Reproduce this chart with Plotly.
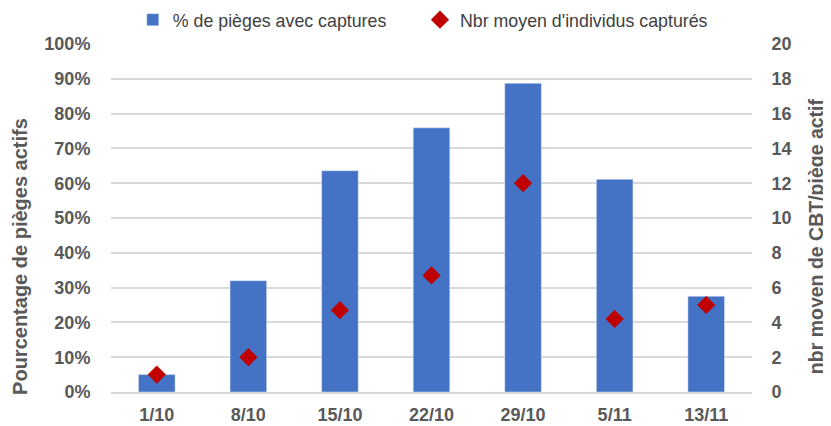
import plotly.graph_objects as go

categories = ["1/10", "8/10", "15/10", "22/10", "29/10", "5/11", "13/11"]
pct_traps = [5.0, 32.0, 63.6, 75.9, 88.7, 61.1, 27.5]
mean_caught = [1.0, 2.0, 4.7, 6.7, 12.0, 4.2, 5.0]
left_ticks = [0, 10, 20, 30, 40, 50, 60, 70, 80, 90, 100]
right_ticks = [0, 2, 4, 6, 8, 10, 12, 14, 16, 18, 20]

FONT = "Liberation Sans"
GRAY = "#595959"
GRID = "#d9d9d9"

fig = go.Figure()
fig.add_trace(go.Bar(
    x=categories, y=pct_traps, name="% de pièges avec captures",
    marker=dict(color="#4472C4"), yaxis="y", legend="legend",
))
fig.add_trace(go.Scatter(
    x=categories, y=mean_caught, name="Nbr moyen d'individus capturés",
    mode="markers", marker=dict(symbol="diamond", size=14, color="#C00000"),
    yaxis="y2", legend="legend2",
))

legend_common = dict(orientation="h", xanchor="left",
                     yref="container", y=0.971, yanchor="middle",
                     font=dict(family=FONT, size=17.8, color="#404040"),
                     itemwidth=30, bgcolor="rgba(0,0,0,0)")

# page body adds an 8px offset, so the figure is 8px smaller than the window
fig.update_layout(
    width=823, height=418,
    margin=dict(l=103, r=79, t=36, b=34, autoexpand=False),
    paper_bgcolor="white", plot_bgcolor="white",
    bargap=0.6,
    font=dict(family=FONT, color=GRAY),
    showlegend=True,
    legend=dict(x=0.034, **legend_common),
    legend2=dict(x=0.482, **legend_common),
    xaxis=dict(
        automargin=False,
        showgrid=False, showline=True, linecolor=GRID, linewidth=1.5,
        ticks="outside", ticklen=6, tickcolor="rgba(0,0,0,0)",
        tickfont=dict(family=FONT, size=18, color=GRAY, weight="bold"),
    ),
    yaxis=dict(
        automargin=False,
        range=[0, 100], tickvals=left_ticks,
        ticktext=[f"{v}%" for v in left_ticks],
        showgrid=True, gridcolor=GRID, gridwidth=1.5, zeroline=False,
        ticks="outside", ticklen=16, tickcolor="rgba(0,0,0,0)",
        tickfont=dict(family=FONT, size=18, color=GRAY, weight="bold"),
    ),
    yaxis2=dict(
        automargin=False,
        range=[0, 20], tickvals=right_ticks, overlaying="y", side="right",
        showgrid=False, zeroline=False,
        ticks="outside", ticklen=15, tickcolor="rgba(0,0,0,0)",
        tickfont=dict(family=FONT, size=18, color=GRAY, weight="bold"),
    ),
    annotations=[
        dict(text="<b>Pourcentage de pièges actifs</b>", textangle=-90,
             xref="paper", yref="paper", x=-0.142, y=0.391,
             xanchor="center", yanchor="middle", showarrow=False,
             font=dict(family=FONT, size=20, color=GRAY)),
        dict(text="<b>nbr moyen de CBT/piège actif</b>", textangle=-90,
             xref="paper", yref="paper", x=1.101, y=0.447,
             xanchor="center", yanchor="middle", showarrow=False,
             font=dict(family=FONT, size=19.5, color=GRAY)),
    ],
)

fig.write_html("out.html")
